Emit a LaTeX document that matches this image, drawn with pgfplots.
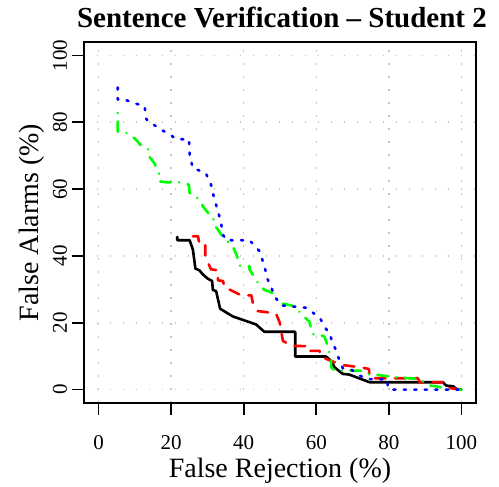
\documentclass[border=0pt]{standalone}
\usepackage{pgfplots}
\pgfplotsset{compat=1.18}
\usepackage{fontspec}
\setmainfont{Liberation Serif}
\begin{document}
\begin{tikzpicture}
\useasboundingbox (-84pt,-84pt) rectangle (415pt,403pt);
\begin{axis}[
  at={(0,0)}, anchor=south west, scale only axis,
  width=392pt, height=361pt,
  xmin=-4, xmax=104, ymin=-4, ymax=104,
  xtick={0,20,...,100}, ytick={0,20,...,100},
  tick pos=left, tick align=outside, major tick length=12pt,
  major tick style={solid, draw=black, line width=1.6pt},
  axis line style={line width=1.8pt},
  grid=major,
  major grid style={line width=1.5pt, gray!45, dash pattern=on 1.5pt off 11.5pt},
  /pgf/number format/assume math mode=true,
  ticklabel style={font=\fontsize{21}{21}\selectfont},
  xticklabel style={anchor=base, yshift=-35pt},
  yticklabel style={xshift=-5pt, rotate=90, anchor=base},
  xlabel={False Rejection (\%)},
  ylabel={False Alarms (\%)},
  label style={font=\fontsize{28}{28}\selectfont},
  xlabel style={at={(axis description cs:0.5,-0.205)}, anchor=base},
  ylabel style={at={(axis description cs:-0.1173,0.5)}, anchor=base},
  title={\bfseries Sentence Verification -- Student 2},
  title style={font=\fontsize{29}{29}\selectfont, at={(axis description cs:0.505,1.024)}, anchor=base},
  every axis plot/.append style={line width=2.6pt, line cap=round, line join=round},
]
\addplot[black] coordinates {(21.7,45.7) (21.7,44.7) (25.1,44.7) (26.0,41.9) (26.7,36.2) (27.8,35.7) (28.7,34.5) (30.1,33.2) (31.3,32.5) (31.5,29.8) (32.4,29.5) (33.5,24.2) (37.0,21.9) (43.4,19.5) (45.7,17.3) (54.2,17.3) (54.2,9.9) (62.7,9.9) (64.1,8.6) (65.0,6.7) (67.3,4.7) (69.1,4.5) (74.7,2.2) (94.9,2.2) (95.8,1.2) (97.7,1.0) (98.6,0.2) (100,0)};
\addplot[red, dash pattern=on 10.5pt off 9.5pt] coordinates {(26.0,45.9) (27.4,45.9) (27.8,43.7) (29.4,43.7) (29.4,39.7) (31.0,36.0) (32.9,35.7) (32.9,32.7) (34.3,32.5) (34.7,30.5) (36.4,29.8) (39.3,28.2) (42.1,28.2) (42.5,26.0) (43.9,23.5) (48.9,22.8) (49.9,20.1) (50.8,14.6) (53.1,13.1) (57.5,13.0) (57.6,11.6) (60.9,11.6) (61.2,9.9) (64.1,8.6) (66.9,7.4) (72.0,6.7) (74.5,6.2) (74.7,3.4) (88.0,3.4) (88.5,2.2) (95.5,2.2) (96.5,0.5) (100,0)};
\addplot[color={rgb,255:red,0;green,255;blue,0}, dash pattern=on 0.1pt off 8.5pt on 10.5pt off 8.5pt] coordinates {(5.3,82.8) (5.3,77.2) (7.6,76.9) (9.9,75.2) (10.8,74.2) (11.8,72.9) (14.0,71.7) (14.0,69.7) (15.4,67.7) (16.8,64.2) (16.8,62.3) (19.1,62.0) (22.8,62.0) (24.9,61.3) (25.1,58.8) (26.9,57.8) (28.3,55.8) (28.9,54.6) (30.6,52.3) (31.5,51.8) (31.9,49.4) (34.7,45.0) (37.0,42.9) (38.1,40.1) (38.8,37.1) (41.6,36.9) (41.6,36.0) (43.9,32.0) (45.7,29.8) (46.6,29.5) (48.8,28.5) (49.4,26.0) (53.1,25.2) (54.5,24.2) (58.1,20.3) (58.6,18.1) (59.1,16.6) (60.9,16.5) (62.3,15.8) (63.2,12.8) (64.1,9.1) (64.1,6.7) (65.0,5.7) (72.0,5.7) (74.2,4.7) (78.3,4.2) (81.5,3.7) (88.4,3.2) (91.2,1.2) (93.0,1.0) (96.7,0) (100,0)};
\addplot[blue, dash pattern=on 2pt off 8.5pt] coordinates {(5.3,90.4) (5.3,86.8) (7.2,86.8) (9.5,85.8) (12.7,84.8) (13.1,81.1) (14.0,79.8) (15.4,79.1) (17.7,77.5) (20.1,76.0) (21.4,74.9) (24.9,74.9) (25.1,71.7) (25.1,70.2) (26.0,66.2) (28.7,65.2) (29.5,64.9) (30.6,62.3) (31.0,61.3) (31.5,58.8) (32.4,55.3) (33.3,51.8) (34.1,47.9) (34.4,46.2) (35.1,44.7) (41.6,44.7) (44.4,41.4) (45.7,36.9) (46.6,33.0) (48.8,27.5) (50.3,25.2) (57.2,24.5) (59.1,23.0) (60.9,21.6) (62.7,18.1) (63.6,17.1) (64.3,14.6) (65.5,11.6) (66.4,8.6) (67.3,6.4) (69.6,6.0) (72.0,4.2) (73.8,3.2) (79.5,3.0) (79.7,1.2) (80.2,0) (100,0)};
\end{axis}
\end{tikzpicture}
\end{document}
